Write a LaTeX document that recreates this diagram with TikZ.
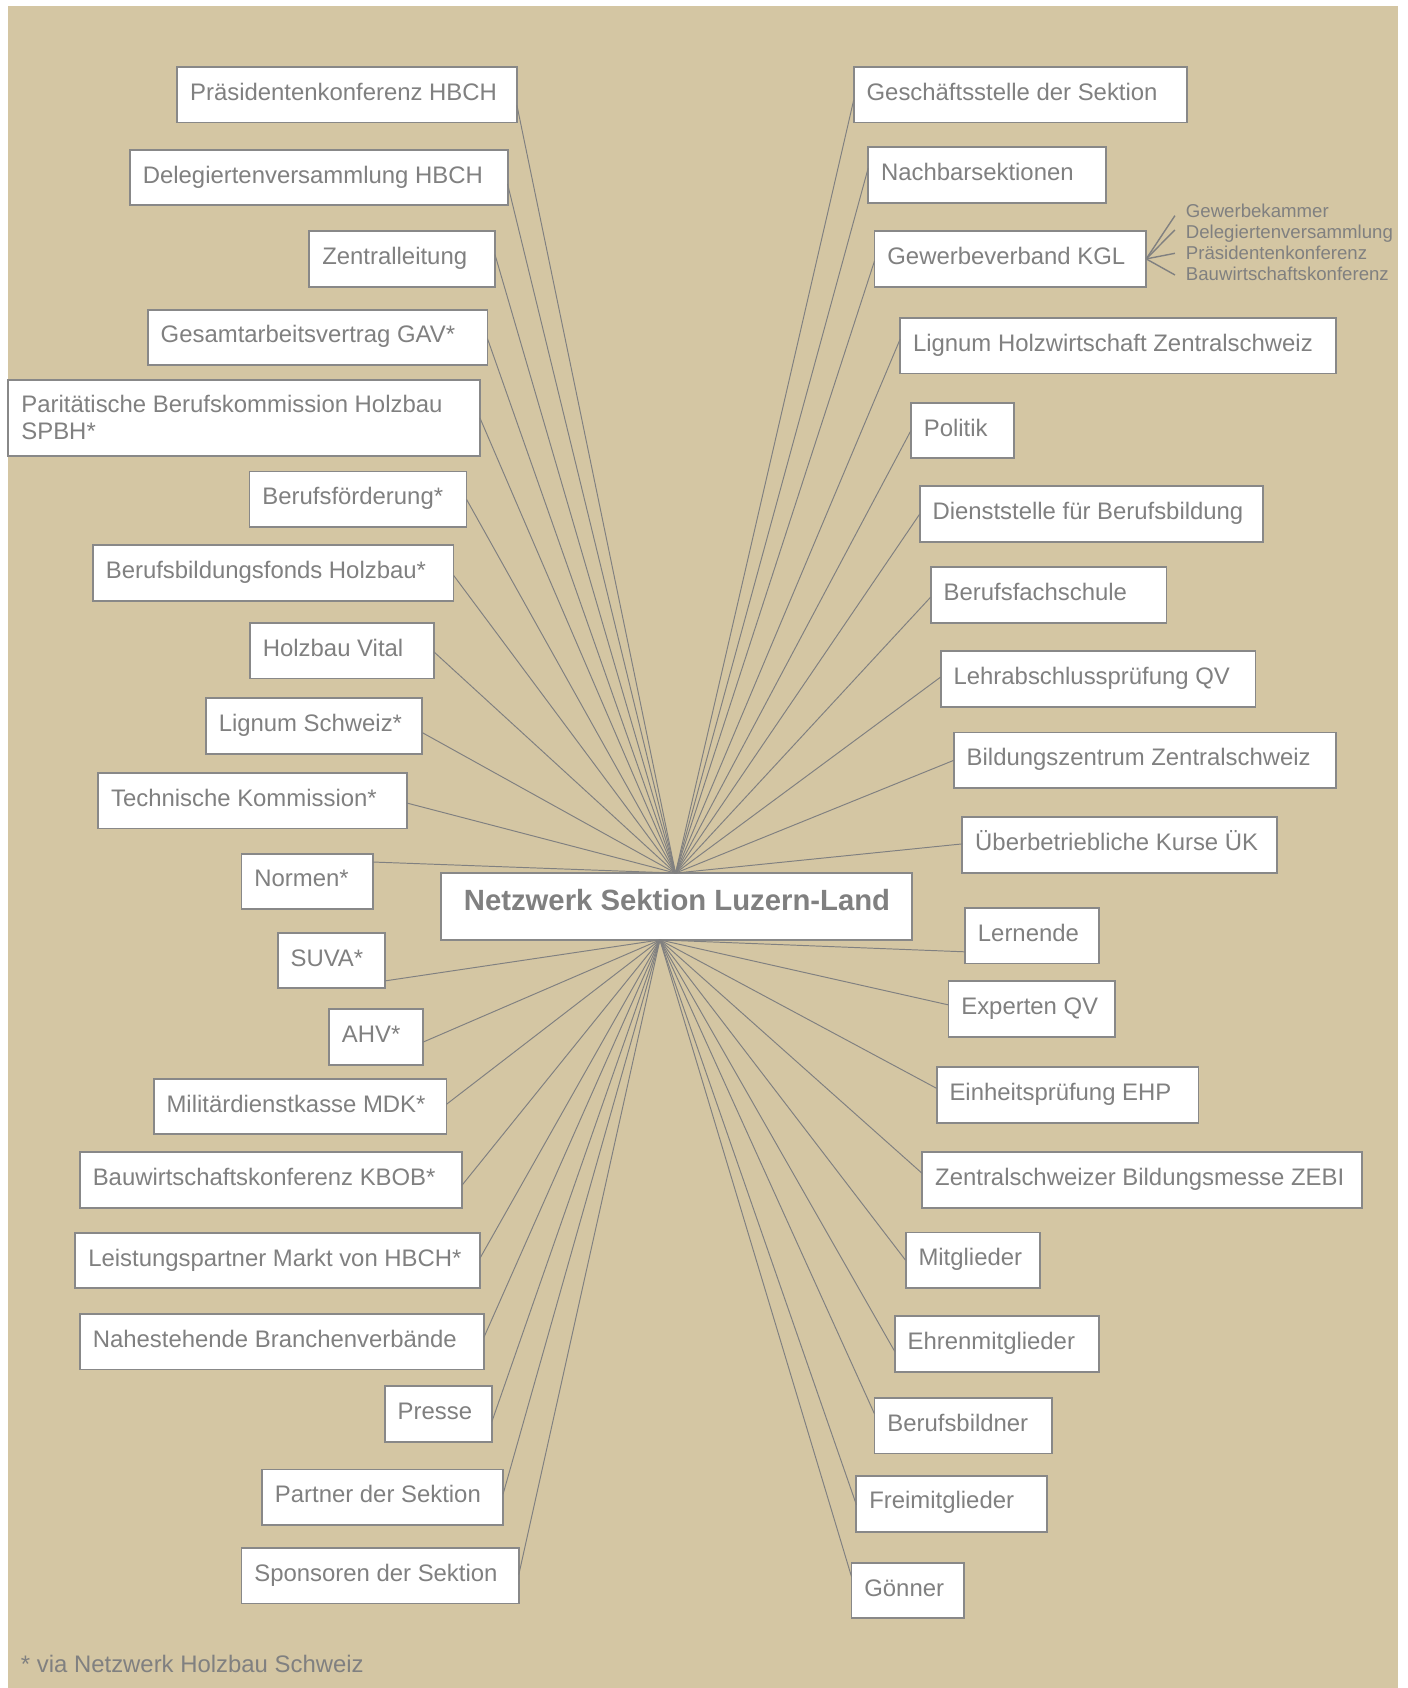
\documentclass[tikz,border=0pt]{standalone}
\usepackage{fontspec}
\setmainfont{Liberation Sans}
\usetikzlibrary{calc}
\definecolor{beige}{RGB}{212,198,163}
\definecolor{txt}{RGB}{128,128,128}
\definecolor{bord}{RGB}{136,136,136}
\definecolor{conn}{RGB}{128,128,128}
\tikzset{
 boxs/.style={draw=bord, line width=1.7pt, fill=white, inner sep=0pt, outer sep=0pt, rectangle},
 lbl/.style={inner sep=0pt, outer sep=0pt, text=txt, font=\fontsize{22.2pt}{26pt}\selectfont},
 small/.style={inner sep=0pt, outer sep=0pt, text=txt, font=\fontsize{17.3pt}{19pt}\selectfont},
 titletext/.style={inner sep=0pt, outer sep=0pt, text=txt, font=\fontsize{27.2pt}{32pt}\selectfont\bfseries},
 link/.style={draw=conn, line width=0.9pt},
 fan/.style={draw=conn, line width=1.3pt},
}
\newcommand\bx[6]{%
  \node[boxs, anchor=north west, minimum width={(#4-#2)*1pt}, minimum height={(#5-#3)*1pt}] (#1) at (#2,#3) {};
  \node[lbl, anchor=base west] (#1t) at ($(#1.north west)+(12,31)$) {#6};
}
\begin{document}
\begin{tikzpicture}[x=1pt,y=-1pt]
\useasboundingbox (0,0) rectangle (1307,1568);
\fill[beige] (7,6) rectangle (1299,1568);

% left column
\bx{l1}{164.6}{62}{480.2}{113.8}{Präsidentenkonferenz HBCH}
\bx{l2}{120.7}{139}{471.5}{190.8}{Delegiertenversammlung HBCH}
\bx{l3}{287.4}{214.6}{459.8}{266.4}{Zentralleitung}
\bx{l4}{137.3}{287.6}{452.8}{339.4}{Gesamtarbeitsvertrag GAV*}
\node[boxs, anchor=north west, minimum width={(445.8-7.5)*1pt}, minimum height={(423.8-352.6)*1pt}] (l5) at (7.5,352.6) {};
\node[lbl, anchor=base west] (l5t) at (19.9,383) {Paritätische Berufskommission Holzbau};
\node[lbl, anchor=base west] (l5u) at (19.9,408.7) {SPBH*};
\bx{l6}{231.8}{437.9}{433.3}{489.6}{Berufsförderung*}
\bx{l7}{86.3}{506.6}{421.3}{558.2}{Berufsbildungsfonds Holzbau*}
\bx{l8}{232.2}{578.6}{403}{630.3}{Holzbau Vital}
\bx{l9}{191.2}{648.5}{392.3}{700.6}{Lignum Schweiz*}
\bx{l10}{91.2}{718.2}{377.8}{769.6}{Technische Kommission*}
\bx{l11}{224.3}{792.9}{346.7}{844.6}{Normen*}
\bx{l12}{257.9}{866.5}{357.4}{917.9}{SUVA*}
\bx{l13}{305.6}{937.1}{392.7}{989.2}{AHV*}
\bx{l14}{142.7}{1002}{414.7}{1053.6}{Militärdienstkasse MDK*}
\bx{l15}{74.2}{1069.8}{429.2}{1122}{Bauwirtschaftskonferenz KBOB*}
\bx{l16}{70}{1145.2}{445.8}{1196.5}{Leistungspartner Markt von HBCH*}
\bx{l17}{74.2}{1220.4}{449.5}{1272.1}{Nahestehende Branchenverbände}
\bx{l18}{357.4}{1287.4}{457}{1339.2}{Presse}
\bx{l19}{243.4}{1365}{467.3}{1416.9}{Partner der Sektion}
\bx{l20}{224.3}{1437.8}{481.9}{1489.5}{Sponsoren der Sektion}

% right column
\bx{r1}{793}{62}{1102.5}{113.8}{Geschäftsstelle der Sektion}
\bx{r2}{806.4}{136.3}{1027.5}{188.4}{Nachbarsektionen}
\bx{r3}{812.3}{214.6}{1064.7}{266.4}{Gewerbeverband KGL}
\bx{r4}{836.1}{295.3}{1241.1}{347}{Lignum Holzwirtschaft Zentralschweiz}
\bx{r5}{846.2}{374.2}{942}{425.6}{Politik}
\bx{r6}{854.2}{451.8}{1172.9}{503.6}{Dienststelle für Berufsbildung}
\bx{r7}{864.6}{526.5}{1083.6}{578.6}{Berufsfachschule}
\bx{r8}{873.8}{605}{1166.2}{656.8}{Lehrabschlussprüfung QV}
\bx{r9}{886}{680.4}{1240.7}{732.1}{Bildungszentrum Zentralschweiz}
\bx{r10}{893.9}{759}{1186.2}{810.8}{Überbetriebliche Kurse ÜK}
\bx{r11}{896.4}{843.3}{1020.8}{895}{Lernende}
\bx{r12}{881}{911.6}{1035.5}{963.3}{Experten QV}
\bx{r13}{870}{990.9}{1113.3}{1043}{Einheitsprüfung EHP}
\bx{r14}{856.7}{1070.1}{1265}{1122}{Zentralschweizer Bildungsmesse ZEBI}
\bx{r15}{841.2}{1144.8}{965.9}{1196.5}{Mitglieder}
\bx{r16}{831.1}{1222.4}{1020.8}{1274.2}{Ehrenmitglieder}
\bx{r17}{812.3}{1298.4}{976.9}{1350.2}{Berufsbildner}
\bx{r18}{795.5}{1370.7}{972.7}{1422.8}{Freimitglieder}
\bx{r19}{790.9}{1451.7}{895.2}{1503}{Gönner}

% centre
\node[boxs, anchor=north west, minimum width=437.8pt, minimum height=62.1pt] (c) at (409.7,811) {};
\node[titletext, anchor=base west] (ct) at (430.9,845.9) {Netzwerk Sektion Luzern-Land};
\coordinate (ht) at (627.5,811);
\coordinate (hb) at (613,873.1);

% connectors
\foreach \n/\d in {l1/10,l2/6,l3/-4,l4/1,l5/0,l6/0,l7/2,l8/1,l9/6,l10/2,l11/-18}
  \draw[link] (ht) -- ($(\n.east)+(0,\d)$);
\foreach \n/\d in {l12/19,l13/5,l14/-2,l15/5,l16/-2,l17/-4,l18/7,l19/-3,l20/-1}
  \draw[link] (hb) -- ($(\n.east)+(0,\d)$);
\foreach \n/\d in {r1/5,r2/-6,r3/2,r4/-6,r5/0,r6/0,r7/2,r8/-2,r9/0,r10/-1}
  \draw[link] (ht) -- ($(\n.west)+(0,\d)$);
\foreach \n/\d in {r11/15,r12/-4,r13/-6,r14/-6,r15/0,r16/7,r17/-11,r18/1,r19/-13}
  \draw[link] (hb) -- ($(\n.west)+(0,\d)$);

% KGL fan
\coordinate (f1) at (1091.4,200.3);
\coordinate (f2) at (1091.4,213.6);
\coordinate (f3) at (1091.4,235.3);
\coordinate (f4) at (1091.4,255.4);
\foreach \f in {f1,f2,f3,f4} \draw[fan] (r3.east) -- (\f);
\node[small, anchor=base west] (s1) at (1101.6,202.2) {Gewerbekammer};
\node[small, anchor=base west] (s2) at (1101.6,221.7) {Delegiertenversammlung};
\node[small, anchor=base west] (s3) at (1101.6,241.2) {Präsidentenkonferenz};
\node[small, anchor=base west] (s4) at (1101.6,260.7) {Bauwirtschaftskonferenz};

% footnote
\node[lbl, anchor=base west] (foot) at (19.5,1554) {* via Netzwerk Holzbau Schweiz};
\end{tikzpicture}
\end{document}
